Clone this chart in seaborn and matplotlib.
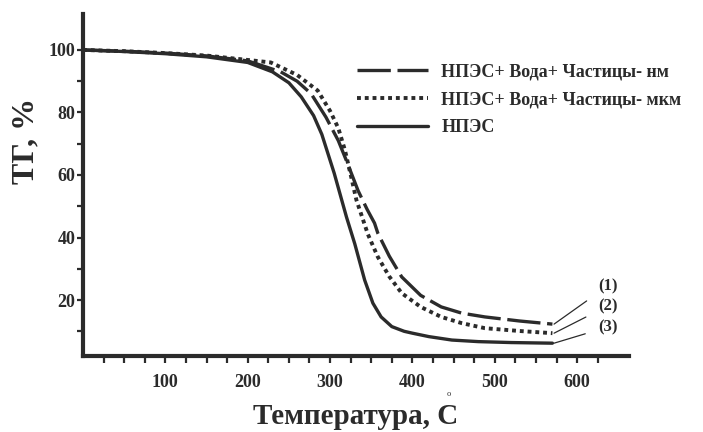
import matplotlib
matplotlib.use("Agg")
import matplotlib.pyplot as plt
import seaborn as sns
import pandas as pd

sns.set_theme(style="white")
plt.rcParams['font.family'] = ['Liberation Serif', 'DejaVu Serif']
plt.rcParams['font.weight'] = 'bold'

INK = "#2b2b2b"

# Series (1): НПЭС+ Вода+ Частицы- нм (dashed)
t1 = [0, 50, 100, 150, 200, 240, 260, 277, 295, 310, 320, 329, 334, 345, 354, 358, 372, 387, 410, 435, 460, 488, 530, 570]
v1 = [100, 99.6, 99, 98.1, 96.5, 93, 90, 86, 78.5, 71, 64.5, 58.4, 55, 49, 44.6, 41.4, 34, 27.4, 21.5, 17.8, 15.8, 14.6, 13.3, 12.3]
# Series (2): НПЭС+ Вода+ Частицы- мкм (dotted)
t2 = [0, 50, 100, 150, 200, 228, 260, 285, 300, 310, 318, 326, 332, 346, 358, 372, 387, 410, 435, 460, 488, 530, 570]
v2 = [100, 99.6, 99, 98.2, 96.8, 96, 92, 87, 80.5, 75, 68, 59, 52, 41, 33.8, 27.5, 22.2, 17.8, 14.6, 12.6, 11, 10.1, 9.4]
# Series (3): НПЭС (solid)
t3 = [0, 50, 100, 150, 200, 230, 250, 265, 280, 290, 305, 320, 330, 342, 352, 362, 375, 390, 400, 420, 448, 480, 520, 570]
v3 = [100, 99.5, 98.8, 97.8, 96, 93, 89.5, 85, 79, 73, 60.6, 46.5, 38, 26.4, 19, 14.6, 11.5, 10, 9.4, 8.3, 7.2, 6.7, 6.4, 6.2]

labels = ["НПЭС+ Вода+ Частицы- нм", "НПЭС+ Вода+ Частицы- мкм", "НПЭС"]
curve_tags = ["(1)", "(2)", "(3)"]
x_ticks = [100, 200, 300, 400, 500, 600]
y_ticks = [20, 40, 60, 80, 100]

fig = plt.figure(figsize=(7.03, 4.32), dpi=100)
ax = fig.add_axes([83/703, 1-356/432, (629-83)/703, (356-14)/432])

lw = 2.4
df1 = pd.DataFrame({"T": t1, "TG": v1})
df2 = pd.DataFrame({"T": t2, "TG": v2})
df3 = pd.DataFrame({"T": t3, "TG": v3})
sns.lineplot(data=df1, x="T", y="TG", ax=ax, color=INK, lw=lw, label=labels[0])
sns.lineplot(data=df2, x="T", y="TG", ax=ax, color=INK, lw=lw + 0.4, label=labels[1])
sns.lineplot(data=df3, x="T", y="TG", ax=ax, color=INK, lw=lw, label=labels[2])
lines = ax.get_lines()
lines[0].set_dashes((10, 2))
lines[0].set_dash_capstyle('butt')
lines[1].set_dashes((1.0, 1.0))
lines[1].set_dash_capstyle('butt')
for ln in lines:
    ln.set_solid_joinstyle('round')
    ln.set_dash_joinstyle('round')

ax.set_xlim(0, 663)
ax.set_ylim(2.1, 111.5)
ax.set_xticks(x_ticks)
ax.set_xticks([x for x in range(25, 650, 25)], minor=True)
ax.set_yticks(y_ticks)
ax.set_yticks([10, 30, 50, 70, 90], minor=True)
ax.tick_params(axis='both', which='both', direction='out', color=INK, width=1.6,
               labelsize=13, labelcolor=INK)
ax.tick_params(axis='x', which='both', length=5, pad=8)
ax.tick_params(axis='y', which='both', length=4, pad=1.5)
ax.tick_params(bottom=True, left=True, which='both')
for lab in ax.get_xticklabels() + ax.get_yticklabels():
    lab.set_fontweight('bold')

sns.despine(ax=ax)
for s in ['left', 'bottom']:
    ax.spines[s].set_linewidth(3)
    ax.spines[s].set_color(INK)

ax.set_xlabel("Температура, C", fontsize=21, fontweight='bold', color=INK)
ax.xaxis.set_label_coords((356-83)/546, (356-403)/342)
ax.set_ylabel("ТГ, %", fontsize=23, fontweight='bold', color=INK)
ax.yaxis.set_label_coords((40-83)/546, (356-141)/342)
fig.text(449/703, 1-394/432, "o", fontsize=6, color=INK, ha='center', va='center',
         fontweight='normal')

leg = ax.legend(loc='upper left', bbox_to_anchor=(341/703, 1-47/432),
                bbox_transform=fig.transFigure, frameon=False,
                handlelength=3.9, handletextpad=0.75, labelspacing=0.6,
                prop={'family': 'Liberation Serif', 'weight': 'bold', 'size': 13})
for txt in leg.get_texts():
    txt.set_color(INK)

# curve tags with leader lines
ends = [v1[-1], v2[-1], v3[-1]]
tag_pos_val = [(362.5-286)/3.125, (362.5-306)/3.125, (362.5-327)/3.125]
for tag, yv, tv in zip(curve_tags, ends, tag_pos_val):
    ax.annotate(tag, xy=(t1[-1] + 2, yv), xytext=(637, tv),
                ha='center', va='center', fontsize=12, fontweight='bold', color=INK,
                arrowprops=dict(arrowstyle='-', color=INK, lw=0.9,
                                shrinkA=7, shrinkB=0),
                annotation_clip=False)

fig.savefig("out.png", dpi=100)
